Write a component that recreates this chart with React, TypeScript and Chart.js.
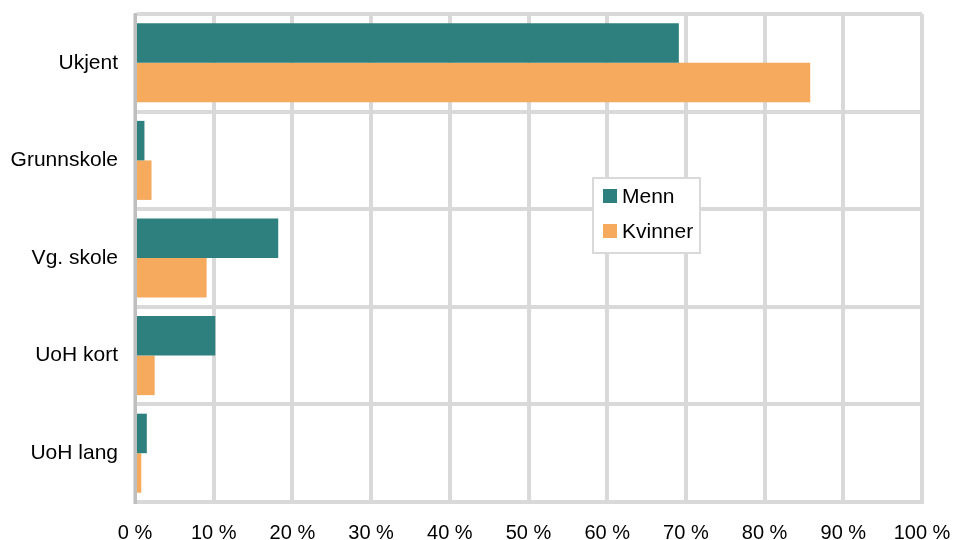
import React, { useEffect, useRef } from "react";
import { Chart, registerables } from "chart.js";

Chart.register(...registerables);

const categories = ["Ukjent", "Grunnskole", "Vg. skole", "UoH kort", "UoH lang"];
const menn = [69.1, 1.2, 18.2, 10.2, 1.5];
const kvinner = [85.8, 2.1, 9.1, 2.5, 0.8];
const seriesNames = ["Menn", "Kvinner"];
const seriesColors = ["#2d807d", "#f5aa5e"];

const FONT = "'Liberation Sans', Arial, sans-serif";

const legendPlugin = {
  id: "boxLegend",
  afterDatasetsDraw(chart: any) {
    const ctx = chart.ctx;
    const x = 593, y = 178, w = 107, h = 75;
    ctx.save();
    ctx.fillStyle = "#ffffff";
    ctx.fillRect(x, y, w, h);
    ctx.strokeStyle = "#d9d9d9";
    ctx.lineWidth = 2;
    ctx.strokeRect(x, y, w, h);
    ctx.font = `21px ${FONT}`;
    ctx.textBaseline = "middle";
    ctx.textAlign = "left";
    chart.data.datasets.forEach((ds: any, i: number) => {
      const cy = 196 + i * 35;
      ctx.fillStyle = ds.backgroundColor;
      ctx.fillRect(603, cy - 7, 14, 14);
      ctx.fillStyle = "#000000";
      ctx.fillText(ds.label, 622, cy + 1);
    });
    ctx.restore();
  },
};

export default function App() {
  const ref = useRef<HTMLCanvasElement>(null);
  useEffect(() => {
    if (!ref.current) return;
    const chart = new Chart(ref.current, {
      type: "bar",
      data: {
        labels: categories,
        datasets: [
          { label: seriesNames[0], data: menn, backgroundColor: seriesColors[0] },
          { label: seriesNames[1], data: kvinner, backgroundColor: seriesColors[1] },
        ],
      },
      options: {
        indexAxis: "y",
        animation: false,
        responsive: false,
        maintainAspectRatio: false,
        devicePixelRatio: 1,
        layout: { padding: { top: 14, right: 31, left: 0, bottom: 0 } },
        datasets: { bar: { categoryPercentage: 0.81, barPercentage: 1 } },
        plugins: { legend: { display: false }, tooltip: { enabled: false } },
        scales: {
          x: {
            min: 0,
            max: 100,
            ticks: {
              stepSize: 10,
              color: "#000000",
              font: { family: FONT, size: 20 },
              padding: 19,
              maxRotation: 0,
              callback: (v: any) => `${v} %`,
            },
            grid: { color: "#d9d9d9", lineWidth: 4, drawTicks: false },
            border: { color: "#d9d9d9", width: 4 },
            afterFit: (s: any) => {
              s.height = 38;
              s.paddingLeft = 0;
              s.paddingRight = 0;
            },
          },
          y: {
            ticks: {
              color: "#000000",
              font: { family: FONT, size: 21 },
              padding: 17,
            },
            grid: { color: "#d9d9d9", lineWidth: 4, drawTicks: false, offset: true },
            border: { color: "#bfbfbf", width: 3 },
            afterFit: (s: any) => {
              s.width = 135;
              s.paddingTop = 0;
              s.paddingBottom = 0;
            },
          },
        },
      },
      plugins: [legendPlugin],
    } as any);
    return () => chart.destroy();
  }, []);
  return (
    <div style={{ position: "fixed", left: 0, top: 0, width: 953, height: 540, background: "#fff" }}>
      <canvas ref={ref} width={953} height={540} style={{ width: 953, height: 540 }} />
    </div>
  );
}
